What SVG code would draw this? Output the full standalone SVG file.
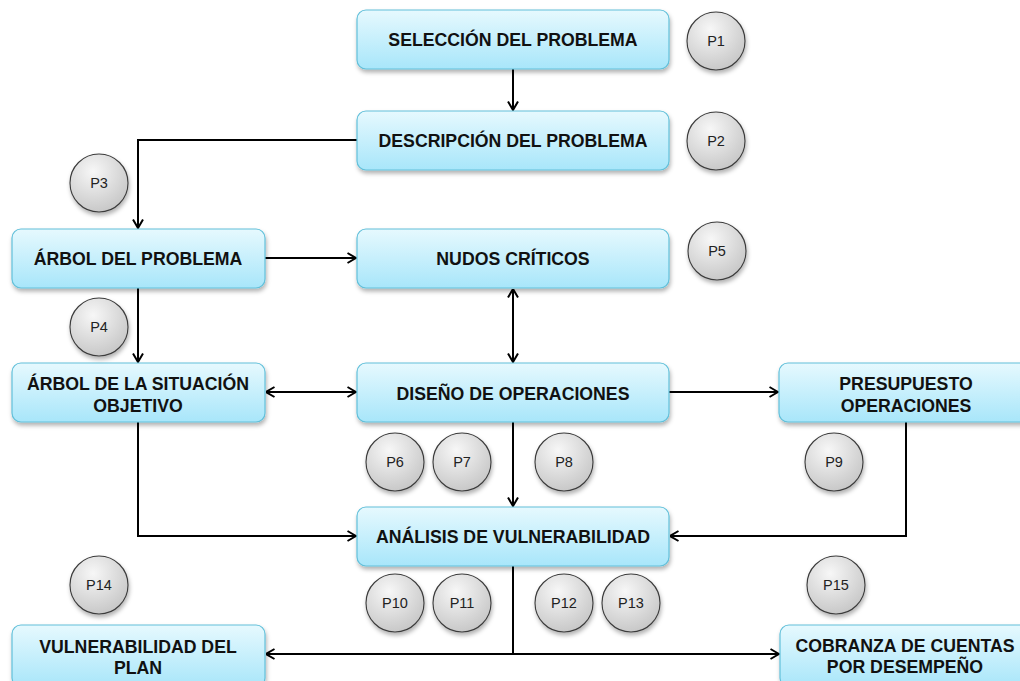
<svg xmlns="http://www.w3.org/2000/svg" width="1020" height="681" viewBox="0 0 1020 681">
<defs>
<linearGradient id="gBox" x1="0" y1="0" x2="0" y2="1">
<stop offset="0" stop-color="#e6f9fe"/>
<stop offset="1" stop-color="#a8e6fa"/>
</linearGradient>
<radialGradient id="gCirc" cx="0.4" cy="0.3" r="0.8">
<stop offset="0" stop-color="#f7f7f7"/>
<stop offset="1" stop-color="#c2c2c2"/>
</radialGradient>
<filter id="sh" x="-10%" y="-10%" width="125%" height="135%">
<feDropShadow dx="1" dy="3" stdDeviation="2" flood-color="#000" flood-opacity="0.3"/>
</filter>
<marker id="ar" viewBox="0 0 10 12" refX="9.5" refY="6" markerWidth="10" markerHeight="12" markerUnits="userSpaceOnUse" orient="auto-start-reverse">
<path d="M1,1 L9.5,6 L1,11" fill="none" stroke="#000" stroke-width="2"/>
</marker>
</defs>
<style>
.box{fill:url(#gBox);stroke:#62c0da;stroke-width:1.2;filter:url(#sh)}
.circ{fill:url(#gCirc);stroke:#3a3a3a;stroke-width:1.1;filter:url(#sh)}
.t{font-family:"Liberation Sans",Arial,sans-serif;font-weight:bold;font-size:17.7px;fill:#111;text-anchor:middle}
.p{font-family:"Liberation Sans",Arial,sans-serif;font-size:14.5px;fill:#222;text-anchor:middle}
.c{fill:none;stroke:#000;stroke-width:2}
</style>
<g id="connectors">
<path class="c" d="M513,69 V110" marker-end="url(#ar)"/>
<path class="c" d="M357,140 H138 V228" marker-end="url(#ar)"/>
<path class="c" d="M265,258 H356" marker-end="url(#ar)"/>
<path class="c" d="M138,288 V362" marker-end="url(#ar)"/>
<path class="c" d="M513,289 V362" marker-start="url(#ar)" marker-end="url(#ar)"/>
<path class="c" d="M266,392 H356" marker-start="url(#ar)" marker-end="url(#ar)"/>
<path class="c" d="M669,392 H778" marker-end="url(#ar)"/>
<path class="c" d="M513,421 V506" marker-end="url(#ar)"/>
<path class="c" d="M138,421 V536 H356" marker-end="url(#ar)"/>
<path class="c" d="M906,421 V536 H670" marker-end="url(#ar)"/>
<path class="c" d="M513,566 V654"/>
<path class="c" d="M266,654 H779" marker-start="url(#ar)" marker-end="url(#ar)"/>
</g>
<g id="n1"><rect class="box" x="357" y="10" width="312" height="59" rx="9"/><text class="t" x="513" y="46">SELECCIÓN DEL PROBLEMA</text></g>
<g id="n2"><rect class="box" x="357" y="111" width="312" height="59" rx="9"/><text class="t" x="513" y="147">DESCRIPCIÓN DEL PROBLEMA</text></g>
<g id="n3"><rect class="box" x="12" y="229" width="253" height="59" rx="9"/><text class="t" x="138" y="265">ÁRBOL DEL PROBLEMA</text></g>
<g id="n4"><rect class="box" x="357" y="229" width="312" height="59" rx="9"/><text class="t" x="513" y="265">NUDOS CRÍTICOS</text></g>
<g id="n5"><rect class="box" x="12" y="363" width="253" height="59" rx="9"/><text class="t" x="138" y="390">ÁRBOL DE LA SITUACIÓN</text><text class="t" x="138" y="412">OBJETIVO</text></g>
<g id="n6"><rect class="box" x="357" y="363" width="312" height="59" rx="9"/><text class="t" x="513" y="400">DISEÑO DE OPERACIONES</text></g>
<g id="n7"><rect class="box" x="779" y="363" width="256" height="59" rx="9"/><text class="t" x="906" y="390">PRESUPUESTO</text><text class="t" x="906" y="412">OPERACIONES</text></g>
<g id="n8"><rect class="box" x="357" y="507" width="312" height="59" rx="9"/><text class="t" x="513" y="543">ANÁLISIS DE VULNERABILIDAD</text></g>
<g id="n9"><rect class="box" x="12" y="625" width="253" height="62" rx="9"/><text class="t" x="138" y="653">VULNERABILIDAD DEL</text><text class="t" x="138" y="674">PLAN</text></g>
<g id="n10"><rect class="box" x="780" y="625" width="256" height="62" rx="9"/><text class="t" x="905" y="652">COBRANZA DE CUENTAS</text><text class="t" x="905" y="673">POR DESEMPEÑO</text></g>
<g id="p1"><circle class="circ" cx="716" cy="41" r="29"/><text class="p" x="716" y="46">P1</text></g>
<g id="p2"><circle class="circ" cx="716" cy="141" r="29"/><text class="p" x="716" y="146">P2</text></g>
<g id="p3"><circle class="circ" cx="99" cy="183" r="29"/><text class="p" x="99" y="188">P3</text></g>
<g id="p4"><circle class="circ" cx="99" cy="327" r="29"/><text class="p" x="99" y="332">P4</text></g>
<g id="p5"><circle class="circ" cx="717" cy="251" r="29"/><text class="p" x="717" y="256">P5</text></g>
<g id="p6"><circle class="circ" cx="395" cy="462" r="29"/><text class="p" x="395" y="467">P6</text></g>
<g id="p7"><circle class="circ" cx="462" cy="462" r="29"/><text class="p" x="462" y="467">P7</text></g>
<g id="p8"><circle class="circ" cx="564" cy="462" r="29"/><text class="p" x="564" y="467">P8</text></g>
<g id="p9"><circle class="circ" cx="834" cy="462" r="29"/><text class="p" x="834" y="467">P9</text></g>
<g id="p10"><circle class="circ" cx="395" cy="603" r="29"/><text class="p" x="395" y="608">P10</text></g>
<g id="p11"><circle class="circ" cx="462" cy="603" r="29"/><text class="p" x="462" y="608">P11</text></g>
<g id="p12"><circle class="circ" cx="564" cy="603" r="29"/><text class="p" x="564" y="608">P12</text></g>
<g id="p13"><circle class="circ" cx="631" cy="603" r="29"/><text class="p" x="631" y="608">P13</text></g>
<g id="p14"><circle class="circ" cx="99" cy="585" r="29"/><text class="p" x="99" y="590">P14</text></g>
<g id="p15"><circle class="circ" cx="836" cy="585" r="29"/><text class="p" x="836" y="590">P15</text></g>
</svg>
